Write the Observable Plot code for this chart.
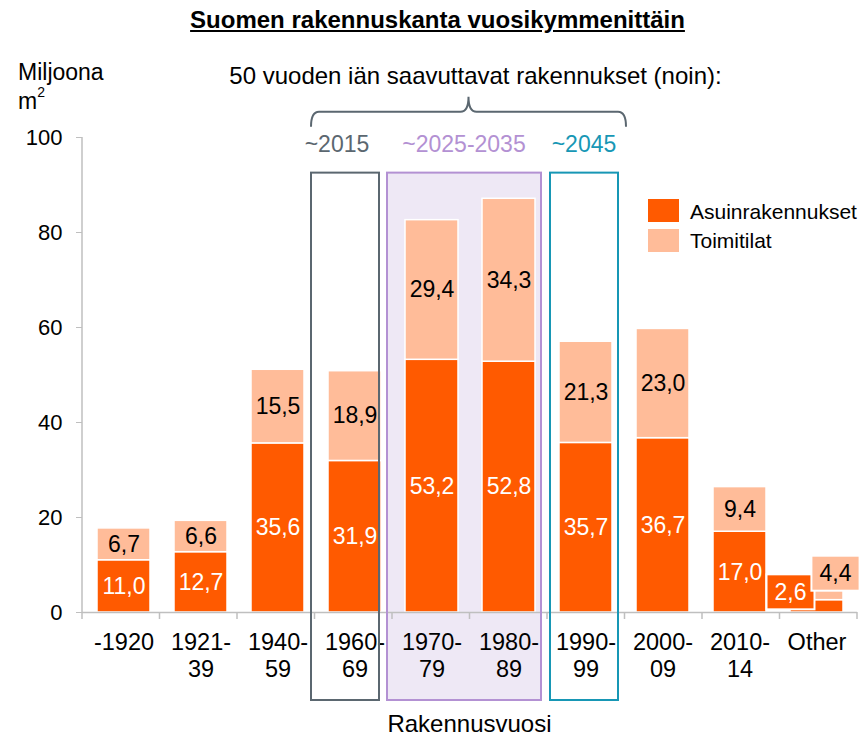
<!DOCTYPE html>
<html><head><meta charset="utf-8">
<script src="https://cdn.jsdelivr.net/npm/d3@7"></script>
<script src="https://cdn.jsdelivr.net/npm/@observablehq/plot@0.6"></script>
<style>
body{margin:0;background:#fff;font-family:"Liberation Sans",Arial,sans-serif;}
#title{height:40px;width:863px;text-align:center;font-weight:bold;font-size:24px;text-decoration:underline;line-height:40px;padding-left:12px;box-sizing:border-box;color:#000}
#chart svg{display:block}
</style></head><body>
<div id="title">Suomen rakennuskanta vuosikymmenittäin</div>
<div id="chart"></div>
<script>
// ---- data ----
const categories = ["-1920","1921-39","1940-59","1960-69","1970-79","1980-89","1990-99","2000-09","2010-14","Other"];
const tickLabels = ["-1920","1921-\n39","1940-\n59","1960-\n69","1970-\n79","1980-\n89","1990-\n99","2000-\n09","2010-\n14","Other"];
const asuinrakennukset = [11.0,12.7,35.6,31.9,53.2,52.8,35.7,36.7,17.0,2.6];
const toimitilat = [6.7,6.6,15.5,18.9,29.4,34.3,21.3,23.0,9.4,4.4];
const seriesNames = ["Asuinrakennukset","Toimitilat"];
const seriesColors = ["#FF5A00","#FFBC99"];
const yTicks = [0,20,40,60,80,100];
const groupLabels = ["~2015","~2025-2035","~2045"];
const groupCategories = [["1960-69"],["1970-79","1980-89"],["1990-99"]];
const groupColors = ["#5B6770","#B391D3","#1797B5"];
const groupFills = ["none","#EEE8F5","none"];
const annotationTitle = "50 vuoden iän saavuttavat rakennukset (noin):";
const yLabelLines = ["Miljoona","m"];
const yLabelSup = "2";
const xLabel = "Rakennusvuosi";
const specialCategory = "Other";

// ---- derived table ----
const rows = categories.flatMap((c,i)=>[
  {cat:c, series:seriesNames[0], value:asuinrakennukset[i], base:0},
  {cat:c, series:seriesNames[1], value:toimitilat[i], base:asuinrakennukset[i]}
]);
const labels = rows.map(r=>({...r, mid:r.base + r.value/2, text:r.value.toFixed(1).replace(".",",")}));
const normal = l => l.cat !== specialCategory;

const FONT = '"Liberation Sans", Arial, sans-serif';
const FS = 23;
const pIn = 0.316;

const plot = Plot.plot({
  width: 863, height: 696,
  marginTop: 97, marginBottom: 124, marginLeft: 82, marginRight: 6,
  style: {fontFamily: FONT, fontSize: FS + "px", background: "transparent", color: "#000"},
  x: {domain: categories, paddingInner: pIn, paddingOuter: pIn/2, axis: null},
  y: {domain: [0,100], axis: null},
  color: {domain: seriesNames, range: seriesColors},
  marks: [
    Plot.barY(rows, {x:"cat", y1:"base", y2:r=>r.base+r.value, fill:"series", stroke:"white", strokeWidth:1.5}),
    Plot.text(labels.filter(l=>normal(l) && l.series===seriesNames[0]), {x:"cat", y:"mid", text:"text", fill:"white", fontSize:FS}),
    Plot.text(labels.filter(l=>normal(l) && l.series===seriesNames[1]), {x:"cat", y:"mid", text:"text", fill:"black", fontSize:FS}),
    Plot.axisY(yTicks, {tickSize:6, tickPadding:14, stroke:"#bfbfbf", fill:"black", fontSize:22}),
    Plot.ruleY([0], {stroke:"#bfbfbf", strokeWidth:1.5}),
    Plot.text(categories, {x:d=>d, frameAnchor:"bottom", text:(d,i)=>tickLabels[i], lineAnchor:"top", dy:18, lineHeight:1.15, fontSize:23.5, fill:"black"})
  ]
});
document.getElementById("chart").appendChild(plot);

const svg = d3.select(plot);
const xs = plot.scale("x"), ys = plot.scale("y");
const [r0, r1] = xs.range;
const step = (r1 - r0) / categories.length;
const edge = i => r0 + i*step;
const y0 = ys.apply(0);
const txt = (sel) => sel.attr("font-family", FONT).attr("font-size", FS).attr("fill", "black");

// special-category labels with background boxes (positioned via the Plot scales)
const specialOffsets = [[-26,-14],[19,-16]];
const sg = svg.append("g");
labels.filter(l => !normal(l)).forEach((l, k) => {
  const cx = xs.apply(l.cat) + xs.bandwidth/2 + specialOffsets[k][0];
  const cy = ys.apply(l.mid) + specialOffsets[k][1];
  const t = sg.append("text").attr("x", cx).attr("y", cy).attr("text-anchor", "middle").attr("dominant-baseline", "central")
    .call(txt).attr("fill", k === 0 ? "white" : "black").text(l.text);
  const bb = t.node().getBBox();
  const w = bb.width + 16, h = 35;
  sg.insert("rect", () => t.node()).attr("x", cx - w/2).attr("y", cy - h/2)
    .attr("width", w).attr("height", h).attr("fill", seriesColors[k]).attr("stroke", "white").attr("stroke-width", 2);
});

// annotation boxes
const boxInsets = [[-3.5,-13],[-5,-6],[3,-6.5]];
const boxTop = ys.apply(92.5), boxBottom = y0 + 88;
const boxes = groupCategories.map((cats, g) => {
  const i0 = categories.indexOf(cats[0]), i1 = categories.indexOf(cats[cats.length-1]);
  return {l: edge(i0) + boxInsets[g][0], r: edge(i1+1) + boxInsets[g][1], g};
});
const bg = svg.insert("g", "g");
boxes.forEach(b => {
  if (groupFills[b.g] !== "none")
    bg.append("rect").attr("x", b.l).attr("y", boxTop).attr("width", b.r-b.l).attr("height", boxBottom-boxTop).attr("fill", groupFills[b.g]);
});
const fg = svg.append("g");
boxes.forEach(b => {
  fg.append("rect").attr("x", b.l).attr("y", boxTop).attr("width", b.r-b.l).attr("height", boxBottom-boxTop)
    .attr("fill", "none").attr("stroke", groupColors[b.g]).attr("stroke-width", 2);
  fg.append("text").attr("x", (b.l+b.r)/2 - (b.g===0?8:0)).attr("y", boxTop - 29)
    .attr("text-anchor", "middle").attr("dominant-baseline", "central")
    .call(txt).attr("fill", groupColors[b.g]).text(groupLabels[b.g]);
});

// brace
const bl = boxes[0].l, br = boxes[boxes.length-1].r + 8, tip = (bl + br)/2;
const hY = boxTop - 61, eY = boxTop - 46, tY = boxTop - 76;
fg.append("path")
  .attr("d", `M${bl},${eY} Q${bl},${hY} ${bl+8},${hY} H${tip-8} Q${tip},${hY} ${tip},${tY} Q${tip},${hY} ${tip+8},${hY} H${br-8} Q${br},${hY} ${br},${eY}`)
  .attr("fill", "none").attr("stroke", "#5B6770").attr("stroke-width", 2);
fg.append("text").attr("x", tip + 7).attr("y", tY - 21).attr("text-anchor", "middle").attr("dominant-baseline", "central")
  .call(txt).attr("font-size", 24).text(annotationTitle);

// axes lines and x ticks
const ax = svg.append("g").attr("stroke", "#bfbfbf").attr("stroke-width", 1.5);
ax.append("line").attr("x1", r0).attr("x2", r0).attr("y1", ys.apply(100)).attr("y2", y0);
for (let i = 0; i <= categories.length; i++)
  ax.append("line").attr("x1", edge(i)).attr("x2", edge(i)).attr("y1", y0).attr("y2", y0 + 7);

// y label
svg.append("text").attr("x", 18).attr("y", 32).attr("text-anchor", "start").attr("dominant-baseline", "central")
  .call(txt).text(yLabelLines[0]);
const m2 = svg.append("text").attr("x", 18).attr("y", 61).attr("text-anchor", "start").attr("dominant-baseline", "central")
  .call(txt).text(yLabelLines[1]);
m2.append("tspan").attr("font-size", 14).attr("dy", -9).text(yLabelSup);

// x label
svg.append("text").attr("x", (r0+r1)/2).attr("y", y0 + 111).attr("text-anchor", "middle").attr("dominant-baseline", "central")
  .call(txt).attr("font-size", 24).text(xLabel);

// legend
const lg = svg.append("g");
seriesNames.forEach((s, i) => {
  lg.append("rect").attr("x", 648).attr("y", 159 + i*30).attr("width", 31).attr("height", 23).attr("fill", seriesColors[i]);
  lg.append("text").attr("x", 690).attr("y", 171 + i*29).attr("text-anchor", "start").attr("dominant-baseline", "central")
    .call(txt).attr("font-size", 21).text(s);
});
</script>
</body></html>
